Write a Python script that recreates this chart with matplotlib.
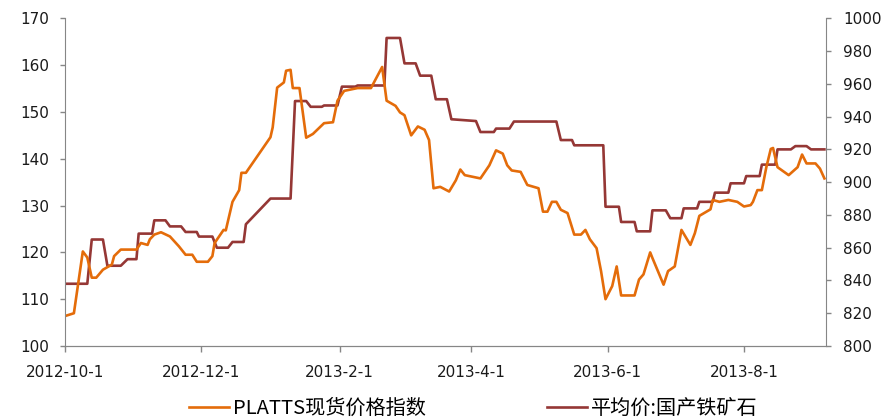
import pandas as pd
import matplotlib
matplotlib.use('Agg')
import matplotlib.pyplot as plt
import matplotlib.dates as mdates
from matplotlib.ticker import FuncFormatter

plt.rcParams['font.family'] = ['DejaVu Sans']

# PLATTS spot index (left axis)
platts_dates = ['2012-10-01', '2012-10-05', '2012-10-09', '2012-10-11', '2012-10-13', '2012-10-15',
                '2012-10-18', '2012-10-22', '2012-10-23', '2012-10-26', '2012-11-02', '2012-11-04',
                '2012-11-07', '2012-11-08', '2012-11-10', '2012-11-13', '2012-11-17', '2012-11-21',
                '2012-11-24', '2012-11-27', '2012-11-29', '2012-12-04', '2012-12-06', '2012-12-07',
                '2012-12-11', '2012-12-12', '2012-12-15', '2012-12-18', '2012-12-19', '2012-12-21',
                '2013-01-01', '2013-01-02', '2013-01-04', '2013-01-07', '2013-01-08', '2013-01-10',
                '2013-01-11', '2013-01-14', '2013-01-17', '2013-01-20', '2013-01-25', '2013-01-29',
                '2013-01-31', '2013-02-03', '2013-02-09', '2013-02-15', '2013-02-20', '2013-02-22',
                '2013-02-26', '2013-02-28', '2013-03-02', '2013-03-05', '2013-03-08', '2013-03-11',
                '2013-03-13', '2013-03-15', '2013-03-18', '2013-03-22', '2013-03-25', '2013-03-27',
                '2013-03-29', '2013-04-05', '2013-04-09', '2013-04-12', '2013-04-15', '2013-04-17',
                '2013-04-19', '2013-04-23', '2013-04-26', '2013-05-01', '2013-05-03', '2013-05-05',
                '2013-05-07', '2013-05-09', '2013-05-11', '2013-05-14', '2013-05-17', '2013-05-20',
                '2013-05-22', '2013-05-24', '2013-05-27', '2013-05-29', '2013-05-31', '2013-06-03',
                '2013-06-05', '2013-06-07', '2013-06-13', '2013-06-15', '2013-06-17', '2013-06-20',
                '2013-06-21', '2013-06-26', '2013-06-28', '2013-07-01', '2013-07-04', '2013-07-08',
                '2013-07-10', '2013-07-12', '2013-07-17', '2013-07-18', '2013-07-21', '2013-07-25',
                '2013-07-29', '2013-08-01', '2013-08-04', '2013-08-05', '2013-08-07', '2013-08-09',
                '2013-08-11', '2013-08-13', '2013-08-14', '2013-08-16', '2013-08-21', '2013-08-25',
                '2013-08-27', '2013-08-29', '2013-09-02', '2013-09-04', '2013-09-06']
platts_vals = [106.4, 107.0, 120.2, 118.9, 114.6, 114.6,
               116.3, 117.4, 119.2, 120.6, 120.6, 122.0,
               121.6, 122.8, 123.8, 124.3, 123.4, 121.3,
               119.5, 119.5, 118.0, 118.0, 119.2, 122.0,
               124.8, 124.7, 130.8, 133.3, 137.0, 137.0,
               144.6, 146.7, 155.2, 156.3, 158.8, 159.0,
               155.1, 155.1, 144.5, 145.3, 147.6, 147.8,
               152.4, 154.5, 155.1, 155.1, 159.6, 152.4,
               151.3, 149.9, 149.3, 145.0, 146.9, 146.2,
               144.0, 133.7, 134.0, 133.0, 135.4, 137.7,
               136.5, 135.8, 138.6, 141.8, 141.1, 138.6,
               137.5, 137.2, 134.4, 133.7, 128.7, 128.7,
               130.8, 130.8, 129.1, 128.4, 123.8, 123.8,
               124.8, 122.8, 120.9, 116.0, 110.0, 112.8,
               117.0, 110.8, 110.8, 114.2, 115.3, 120.0,
               118.8, 113.1, 116.0, 117.0, 124.8, 121.6,
               124.1, 127.8, 129.2, 131.2, 130.8, 131.2,
               130.8, 129.8, 130.1, 130.8, 133.3, 133.3,
               138.2, 142.1, 142.3, 138.2, 136.5, 138.2,
               140.9, 139.0, 139.0, 137.9, 135.8]

# domestic iron ore average price (right axis)
avg_dates = ['2012-10-01', '2012-10-11', '2012-10-13', '2012-10-18', '2012-10-20', '2012-10-26',
             '2012-10-29', '2012-11-02', '2012-11-03', '2012-11-09', '2012-11-10', '2012-11-15',
             '2012-11-17', '2012-11-22', '2012-11-24', '2012-11-29', '2012-11-30', '2012-12-06',
             '2012-12-08', '2012-12-13', '2012-12-15', '2012-12-20', '2012-12-21', '2013-01-01',
             '2013-01-10', '2013-01-12', '2013-01-17', '2013-01-19', '2013-01-24', '2013-01-25',
             '2013-01-31', '2013-02-02', '2013-02-08', '2013-02-09', '2013-02-21', '2013-02-22',
             '2013-02-28', '2013-03-02', '2013-03-07', '2013-03-09', '2013-03-14', '2013-03-16',
             '2013-03-21', '2013-03-23', '2013-04-03', '2013-04-05', '2013-04-11', '2013-04-12',
             '2013-04-18', '2013-04-20', '2013-05-09', '2013-05-11', '2013-05-16', '2013-05-17',
             '2013-05-30', '2013-05-31', '2013-06-06', '2013-06-07', '2013-06-13', '2013-06-14',
             '2013-06-20', '2013-06-21', '2013-06-27', '2013-06-29', '2013-07-04', '2013-07-05',
             '2013-07-11', '2013-07-12', '2013-07-18', '2013-07-19', '2013-07-25', '2013-07-26',
             '2013-08-01', '2013-08-02', '2013-08-08', '2013-08-09', '2013-08-15', '2013-08-16',
             '2013-08-22', '2013-08-24', '2013-08-29', '2013-08-31', '2013-09-06']
avg_vals = [838, 838, 865, 865, 849, 849,
            853, 853, 868.6, 868.6, 876.7, 876.7,
            873, 873, 869.6, 869.6, 866.8, 866.8,
            860, 860, 863.5, 863.5, 874.3, 890,
            890, 949.5, 949.5, 946, 946, 946.8,
            946.8, 958.3, 958.3, 959, 959, 988,
            988, 972.5, 972.5, 965, 965, 950.6,
            950.6, 938.4, 937.3, 930.6, 930.6, 932.7,
            932.7, 937, 937, 925.7, 925.7, 922.5,
            922.5, 885, 885, 875.7, 875.7, 870,
            870, 882.8, 882.8, 878, 878, 884,
            884, 888, 888, 893.6, 893.6, 899.3,
            899.3, 903.7, 903.7, 910.7, 910.7, 920,
            920, 922, 922, 920, 920]

x_ticks = ['2012-10-01', '2012-12-01', '2013-02-01', '2013-04-01', '2013-06-01', '2013-08-01']

orange = '#E46C0A'
darkred = '#953735'
grey = '#868686'
txt = '#1a1a1a'

fig = plt.figure(figsize=(8.85, 4.18), dpi=100)
ax = fig.add_axes([0.0734, 0.1722, 0.8594, 0.784])
ax2 = ax.twinx()

l1, = ax.plot(pd.to_datetime(platts_dates), platts_vals, color=orange, lw=1.9,
              label='PLATTS现货价格指数')
l2, = ax2.plot(pd.to_datetime(avg_dates), avg_vals, color=darkred, lw=1.9,
               label='平均价:国产铁矿石')
ax.set_zorder(ax2.get_zorder() + 1)
ax.patch.set_visible(False)

ax.set_ylim(100, 170)
ax.set_yticks(range(100, 171, 10))
ax2.set_ylim(800, 1000)
ax2.set_yticks(range(800, 1001, 20))
x0 = pd.Timestamp('2012-10-01')
ax.set_xlim(x0, x0 + pd.Timedelta(days=340.5))
ax.set_xticks(pd.to_datetime(x_ticks))
ax.xaxis.set_major_formatter(FuncFormatter(
    lambda v, p: (lambda d: f'{d.year}-{d.month}-{d.day}')(mdates.num2date(v))))

for a in (ax, ax2):
    for s in a.spines.values():
        s.set_color(grey)
    a.spines['top'].set_visible(False)
ax.spines['right'].set_visible(False)
ax2.spines['left'].set_visible(False)

ax.tick_params(axis='y', length=3.6, width=1, color=grey, pad=8, labelsize=11, labelcolor=txt)
ax.tick_params(axis='x', length=4.5, width=1, color=grey, pad=9, labelsize=11, labelcolor=txt)
ax2.tick_params(axis='y', length=3.6, width=1, color=grey, pad=9, labelsize=11, labelcolor=txt)

fig.legend(handles=[l1, l2], loc='center', bbox_to_anchor=(0.535, 0.022), ncol=2,
           frameon=False, handlelength=2.0, handletextpad=0.2, columnspacing=6.0,
           prop={'family': ['Noto Sans CJK SC', 'DejaVu Sans'], 'size': 14.5})

fig.savefig('out.png', dpi=100)
